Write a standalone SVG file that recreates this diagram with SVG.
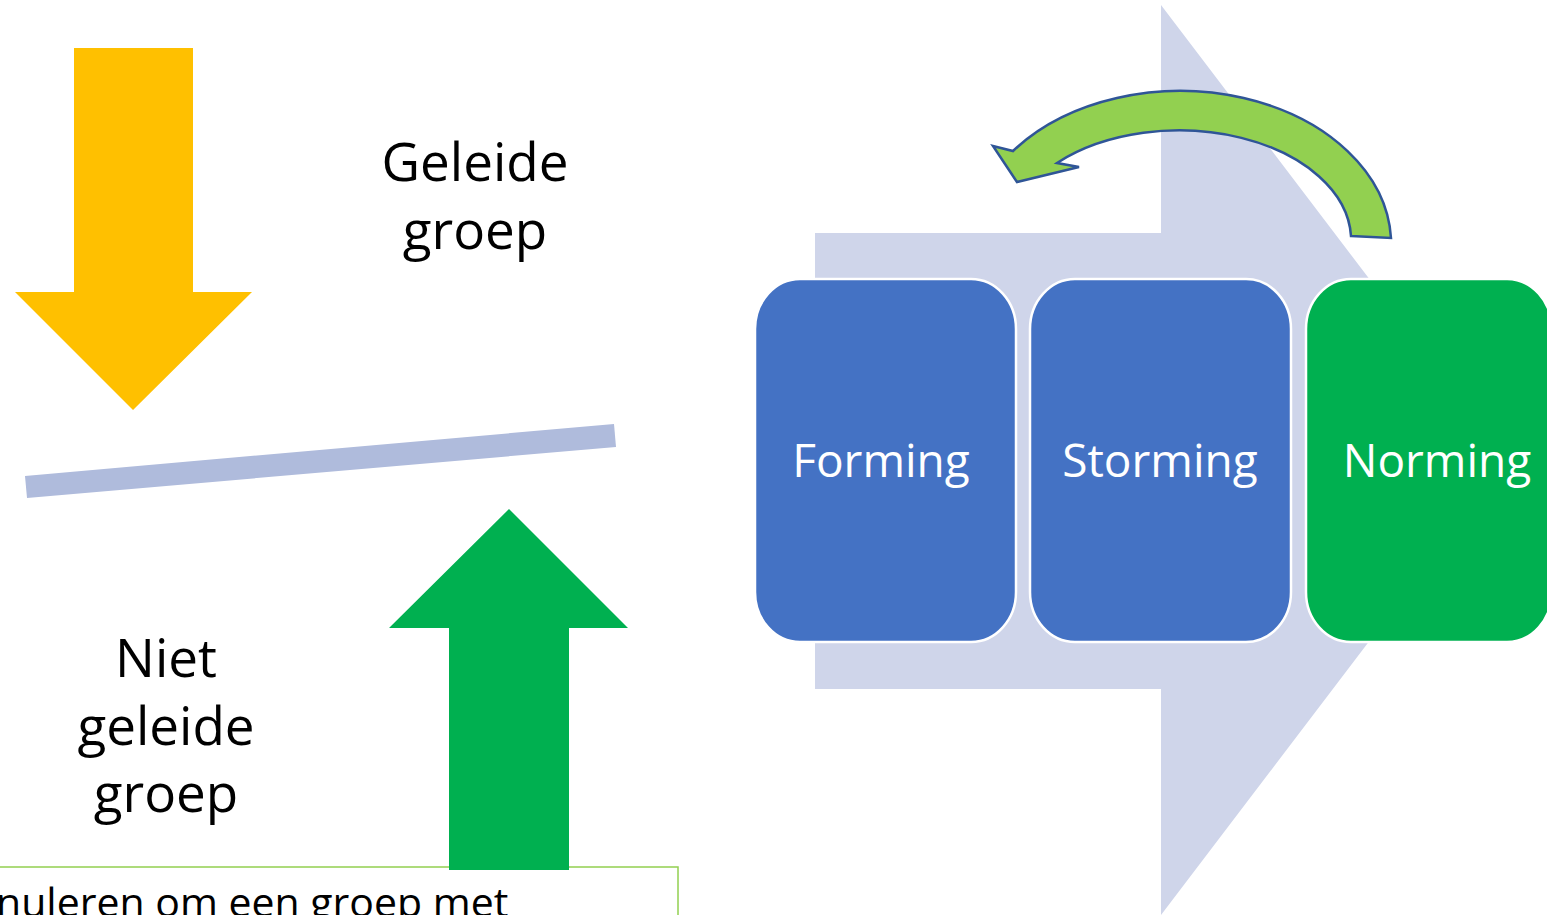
<svg xmlns="http://www.w3.org/2000/svg" width="1547" height="915" viewBox="0 0 1547 915">
<style>
.lbl{font-family:"Open Sans","Liberation Sans",sans-serif;fill:#000;text-anchor:middle}
.box{stroke:#fff;stroke-width:2.5}
.boxtxt{font-family:"Open Sans","Liberation Sans",sans-serif;font-size:46px;fill:#fff;text-anchor:middle}
</style>
<rect width="1547" height="915" fill="#fff"/>
<g id="textbox">
<rect x="-2" y="867" width="680" height="60" fill="#fff" stroke="#92D050" stroke-width="1.5"/>
<text x="-4" y="917" style="font-family:'Open Sans','Liberation Sans',sans-serif;font-size:41px;fill:#000">nuleren om een groep met</text>
</g>
<g id="yellow-arrow">
<polygon points="74,48 193,48 193,292 252,292 133,410 15,292 74,292" fill="#FFC000"/>
</g>
<g id="green-arrow">
<polygon points="509,509 628,628 569,628 569,870 449,870 449,628 389,628" fill="#00B050"/>
</g>
<g id="balance-bar">
<polygon points="25,476 614,424 616,447 27,498" fill="#AFBBDC"/>
</g>
<g id="label-geleide">
<text class="lbl" x="475" y="181" font-size="53">Geleide</text>
<text class="lbl" x="475" y="249" font-size="53">groep</text>
</g>
<g id="label-niet-geleide">
<text class="lbl" x="166" y="677" font-size="53">Niet</text>
<text class="lbl" x="166" y="745" font-size="53">geleide</text>
<text class="lbl" x="166" y="812" font-size="53">groep</text>
</g>
<g id="process-arrow">
<polygon points="815,233 1161,233 1161,5 1507,460 1161,915 1161,689 815,689" fill="#CFD5EA"/>
</g>
<g id="forming">
<rect class="box" x="755" y="279" width="261" height="363" rx="45" ry="50" fill="#4472C4"/>
<text class="boxtxt" x="881" y="477">Forming</text>
</g>
<g id="storming">
<rect class="box" x="1030" y="279" width="261" height="363" rx="45" ry="50" fill="#4472C4"/>
<text class="boxtxt" x="1160" y="477">Storming</text>
</g>
<g id="norming">
<rect class="box" x="1306" y="279" width="246" height="363" rx="45" ry="50" fill="#00B050"/>
<text class="boxtxt" x="1437" y="477">Norming</text>
</g>
<g id="connectors">
<path d="M 1351,236 L 1391,238 A 211 154 0 0 0 1013,151 L 993,146 L 1017,182 L 1079,167 L 1057,163 A 172 110 0 0 1 1351,236 Z" fill="#92D050" stroke="#2F5597" stroke-width="2.5" stroke-linejoin="miter"/>
</g>
</svg>
